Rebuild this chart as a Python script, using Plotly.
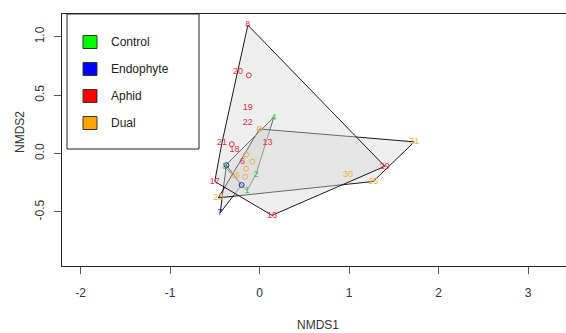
import plotly.graph_objects as go

# ---- data (NMDS scores) ----
groups = ["Control", "Endophyte", "Aphid", "Dual"]
legend_colors = ["#00FF00", "#0000FF", "#FF0000", "#FFA500"]
text_colors = {"Control": "#2ECC2E", "Endophyte": "#2626CC", "Aphid": "#E0303C", "Dual": "#F0B040"}

# labelled samples (orditorp labels)
control_lab = ["4", "3", "2", "1"]
control_x = [0.16, -0.39, -0.04, -0.14]
control_y = [0.31, -0.11, -0.18, -0.32]

endo_lab = ["7"]
endo_x = [-0.44]
endo_y = [-0.51]
endo_pt_x = [-0.20, -0.37]
endo_pt_y = [-0.27, -0.10]

aphid_lab = ["8", "20", "19", "22", "21", "13", "18", "6", "17", "16", "29"]
aphid_x = [-0.13, -0.24, -0.13, -0.13, -0.42, 0.09, -0.28, -0.19, -0.50, 0.14, 1.40]
aphid_y = [1.10, 0.70, 0.39, 0.26, 0.09, 0.09, 0.03, -0.07, -0.24, -0.53, -0.11]
aphid_pt_x = [-0.12, -0.31]
aphid_pt_y = [0.67, 0.08]

dual_lab = ["31", "25", "30", "23", "26"]
dual_x = [1.73, 1.27, 0.99, -0.46, -0.27]
dual_y = [0.10, -0.24, -0.18, -0.38, -0.19]
dual_pt_x = [0.00, -0.15, -0.08, -0.15, -0.16]
dual_pt_y = [0.21, -0.01, -0.07, -0.13, -0.20]

x_ticks = [-2, -1, 0, 1, 2, 3]
y_ticks = [-0.5, 0.0, 0.5, 1.0]
y_tick_text = ["-0.5", "0.0", "0.5", "1.0"]


def hull(xs, ys):
    pts = sorted(set(zip(xs, ys)))
    if len(pts) <= 2:
        return pts

    def cross(o, a, b):
        return (a[0] - o[0]) * (b[1] - o[1]) - (a[1] - o[1]) * (b[0] - o[0])

    lower, upper = [], []
    for p in pts:
        while len(lower) >= 2 and cross(lower[-2], lower[-1], p) <= 0:
            lower.pop()
        lower.append(p)
    for p in reversed(pts):
        while len(upper) >= 2 and cross(upper[-2], upper[-1], p) <= 0:
            upper.pop()
        upper.append(p)
    return lower[:-1] + upper[:-1]


FONT = "Liberation Sans Narrow, Arial Narrow, Liberation Sans, Arial, sans-serif"

fig = go.Figure()

group_data = {
    "Control": (control_x, control_y, control_lab, [], []),
    "Endophyte": (endo_x, endo_y, endo_lab, endo_pt_x, endo_pt_y),
    "Dual": (dual_x, dual_y, dual_lab, dual_pt_x, dual_pt_y),
    "Aphid": (aphid_x, aphid_y, aphid_lab, aphid_pt_x, aphid_pt_y),
}

# hulls (drawn in order so later fills veil earlier borders)
for g in ["Control", "Endophyte", "Dual", "Aphid"]:
    xs, ys, _, px, py = group_data[g]
    h = hull(xs + px, ys + py)
    hx = [p[0] for p in h] + [h[0][0]]
    hy = [p[1] for p in h] + [h[0][1]]
    fig.add_trace(go.Scatter(
        x=hx, y=hy, mode="lines", fill="toself",
        fillcolor="rgba(218,218,218,0.42)",
        line=dict(color="#1a1a1a", width=1),
        hoverinfo="skip", showlegend=False))

# points and labels
for g in ["Endophyte", "Dual", "Aphid", "Control"]:
    xs, ys, labs, px, py = group_data[g]
    if px:
        fig.add_trace(go.Scatter(
            x=px, y=py, mode="markers",
            marker=dict(symbol="circle-open", size=5, color=text_colors[g], line=dict(width=1)),
            showlegend=False, hoverinfo="skip"))
    fig.add_trace(go.Scatter(
        x=xs, y=ys, mode="text", text=labs,
        textfont=dict(family=FONT, size=9, color=text_colors[g]),
        showlegend=False, hoverinfo="skip"))

# manual legend box (R style)
L, R, T, B, W, H = 62, 566, 14, 266, 504, 252


def px_x(p):
    return (p - L) / W


def px_y(p):
    return (B - p) / H


shapes = [dict(type="rect", xref="paper", yref="paper",
               x0=px_x(67), x1=px_x(199), y0=px_y(149), y1=px_y(14),
               line=dict(color="#222", width=1), fillcolor="white", layer="above")]
annotations = []
item_y = [42, 69, 96, 123]
for g, c, yy in zip(groups, legend_colors, item_y):
    shapes.append(dict(type="rect", xref="paper", yref="paper",
                       x0=px_x(83), x1=px_x(97), y0=px_y(yy + 6.5), y1=px_y(yy - 6.5),
                       line=dict(color="#333", width=1), fillcolor=c, layer="above"))
    annotations.append(dict(xref="paper", yref="paper", x=px_x(109), y=px_y(yy),
                            text=g, showarrow=False, xanchor="left", yanchor="middle",
                            font=dict(family=FONT, size=12, color="#222")))

annotations.append(dict(xref="paper", yref="paper", x=px_x(318), y=px_y(325), text="NMDS1",
                        showarrow=False, xanchor="center", yanchor="middle",
                        font=dict(family=FONT, size=12, color="#333")))
annotations.append(dict(xref="paper", yref="paper", x=px_x(20), y=px_y(132), text="NMDS2",
                        showarrow=False, xanchor="center", yanchor="middle", textangle=-90,
                        font=dict(family=FONT, size=12, color="#333")))

x_lo = (L - 259.5) / 89.5
x_hi = (R - 259.5) / 89.5
y_hi = (153.5 - T) / 116.7
y_lo = (153.5 - B) / 116.7

fig.update_layout(
    width=566, height=333,
    margin=dict(l=L, r=566 - R, t=T, b=333 - B, pad=0),
    paper_bgcolor="white", plot_bgcolor="white",
    showlegend=False,
    shapes=shapes, annotations=annotations,
    xaxis=dict(range=[x_lo, x_hi], tickvals=x_ticks, ticktext=[str(v) for v in x_ticks],
               showgrid=False, zeroline=False, showline=True, mirror=True,
               linecolor="#222", linewidth=1, ticks="outside", ticklen=7, tickcolor="#555",
               tickfont=dict(family=FONT, size=12, color="#333"), ticklabelstandoff=9),
    yaxis=dict(range=[y_lo, y_hi], tickvals=y_ticks, ticktext=y_tick_text,
               showgrid=False, zeroline=False, showline=True, mirror=False,
               linecolor="#222", linewidth=1, ticks="outside", ticklen=7, tickcolor="#555",
               tickangle=-90, tickfont=dict(family=FONT, size=12, color="#333"),
               ticklabelstandoff=5),
)

fig.write_html("out.html")
